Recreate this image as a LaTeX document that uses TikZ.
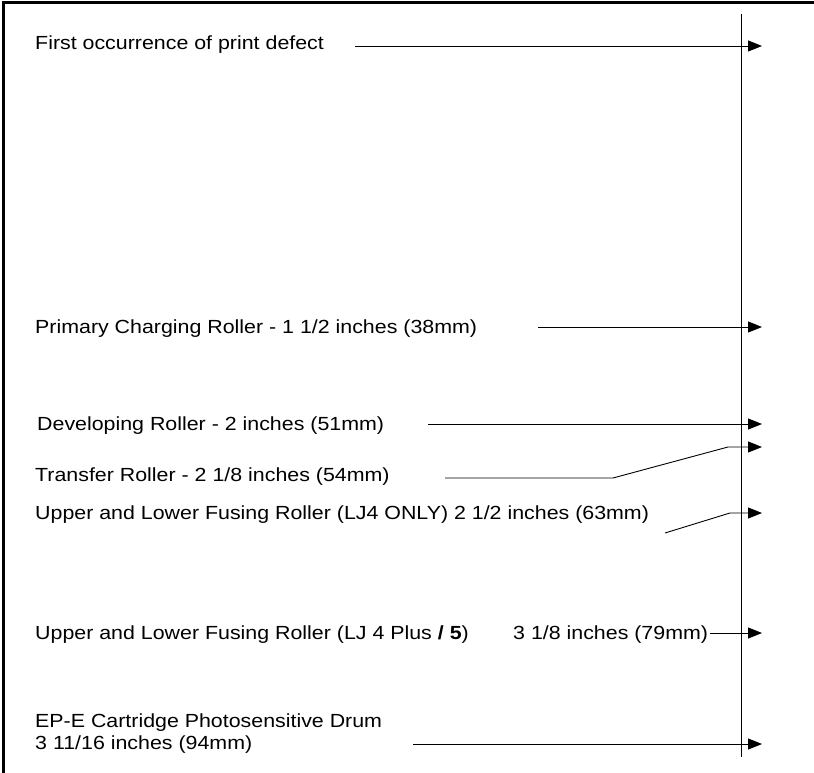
\documentclass[tikz,border=0pt]{standalone}
\usepackage{fontspec}
\setmainfont{Liberation Sans}[FakeStretch=1.125]
\usetikzlibrary{calc, positioning, arrows.meta}
\definecolor{inkBlack}{HTML}{000000}
\tikzset{
  lbl/.style   = {font=\fontsize{19}{22}\selectfont, text=inkBlack, inner sep=0pt, anchor=base west},
  fl/.style    = {-{Triangle[length=14pt, width=11pt]}, draw=inkBlack, line width=0.9pt},
  axis/.style  = {draw=inkBlack, line width=1pt},
  frame/.style = {draw=inkBlack, line width=3pt}
}
\begin{document}
\begin{tikzpicture}[x=1pt, y=-1pt]
  \useasboundingbox (0,0) rectangle (814,773);
  \draw[frame] (3,773) -- (3,3) -- (814,3);
  % time axis
  \coordinate (top) at (741,14);
  \coordinate (bot) at (741,757);
  \draw[axis] (top) -- (bot);
  % labels
  \node[lbl] (first) at (35,50) {First occurrence of print defect};
  \node[lbl] (pcr)   at (35,333) {Primary Charging Roller - 1 1/2 inches (38mm)};
  \node[lbl] (dev)   at (37,430) {Developing Roller - 2 inches (51mm)};
  \node[lbl] (trn)   at (35,481) {Transfer Roller - 2 1/8 inches (54mm)};
  \node[lbl] (fus4)  at (35,519) {Upper and Lower Fusing Roller (LJ4 ONLY) 2 1/2 inches (63mm)};
  \node[lbl] (fus5)  at (35,639) {Upper and Lower Fusing Roller (LJ 4 Plus \textbf{/ 5})};
  \node[lbl] (fus5b) at (513,639) {3 1/8 inches (79mm)};
  \node[lbl] (drum)  at (35,727) {EP-E Cartridge Photosensitive Drum};
  \node[lbl] (drumb) at (35,749) {3 11/16 inches (94mm)};
  % line starts and arrow tips
  \coordinate (s1) at (355,46);  \coordinate (e1) at (762,46);
  \coordinate (s2) at (538,327); \coordinate (e2) at (762,327);
  \coordinate (s3) at (428,424); \coordinate (e3) at (762,424);
  \coordinate (s4) at (445,478); \coordinate (k4) at (613,478);
  \coordinate (j4) at (728,447); \coordinate (e4) at (762,447);
  \coordinate (s5) at (665,533); \coordinate (j5) at (730,513);
  \coordinate (e5) at (762,513);
  \coordinate (s6) at (710,633); \coordinate (e6) at (762,633);
  \coordinate (s7) at (413,744); \coordinate (e7) at (762,744);
  \foreach \a/\b in {s1/e1, s2/e2, s3/e3, s6/e6, s7/e7} \draw[fl] (\a) -- (\b);
  \draw[fl] (s4) -- (k4) -- (j4) -- (e4);
  \draw[fl] (s5) -- (j5) -- (e5);
\end{tikzpicture}
\end{document}
